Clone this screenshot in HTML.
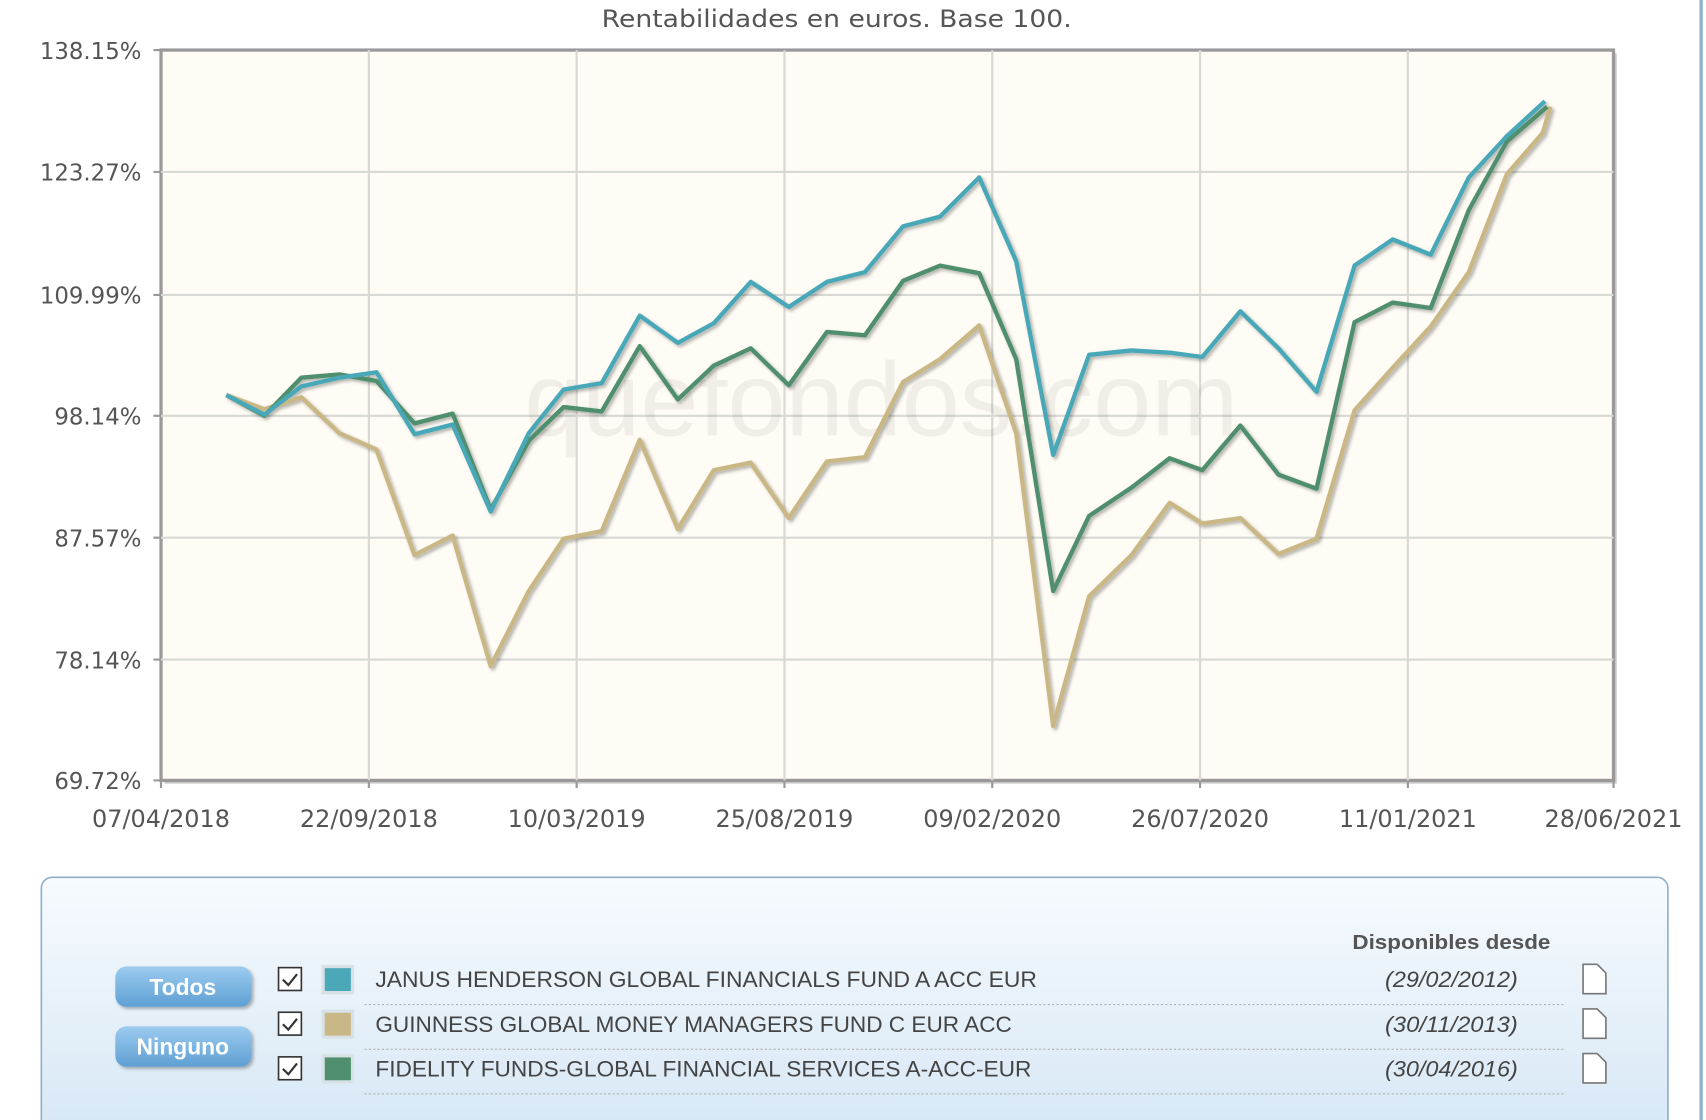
<!DOCTYPE html>
<html><head><meta charset="utf-8"><style>
html,body{margin:0;padding:0;background:#fff;}
svg{display:block;font-family:"Liberation Sans",sans-serif;}
.dv{font-family:"DejaVu Sans",sans-serif;}
</style></head><body>
<svg width="1706" height="1120" viewBox="0 0 1568 1029" preserveAspectRatio="none" xmlns="http://www.w3.org/2000/svg">
<defs>
<linearGradient id="lg" x1="0" y1="0" x2="0" y2="1"><stop offset="0" stop-color="#f7fbfe"/><stop offset="1" stop-color="#d6e7f5"/></linearGradient>
<linearGradient id="bg" x1="0" y1="0" x2="0" y2="1"><stop offset="0" stop-color="#9ccbef"/><stop offset="1" stop-color="#5e9fd3"/></linearGradient>
<filter id="sh" x="-5%" y="-5%" width="110%" height="110%"><feDropShadow dx="2" dy="2" stdDeviation="1.5" flood-color="#000" flood-opacity="0.3"/></filter>
</defs>
<rect x="1562" y="0" width="3" height="1029" fill="#8db0cc"/>
<text class="dv" x="553" y="25" font-size="22" fill="#555" textLength="432" lengthAdjust="spacingAndGlyphs">Rentabilidades en euros. Base 100.</text>
<rect x="151" y="49" width="1335" height="671" fill="#ccc"/>
<rect x="148" y="46" width="1335" height="671" fill="#fefcf4" stroke="#999" stroke-width="3"/>
<g stroke="#d8d8d4" stroke-width="2">
<line x1="148" y1="158" x2="1483" y2="158"/><line x1="148" y1="271" x2="1483" y2="271"/><line x1="148" y1="382" x2="1483" y2="382"/><line x1="148" y1="494" x2="1483" y2="494"/><line x1="148" y1="606" x2="1483" y2="606"/>
<line x1="339" y1="46" x2="339" y2="717"/><line x1="530" y1="46" x2="530" y2="717"/><line x1="721" y1="46" x2="721" y2="717"/><line x1="912" y1="46" x2="912" y2="717"/><line x1="1103" y1="46" x2="1103" y2="717"/><line x1="1294" y1="46" x2="1294" y2="717"/>
</g>
<text x="810" y="400" font-size="96" fill="#000" opacity="0.05" text-anchor="middle">quefondos.com</text>
<g stroke="#999" stroke-width="2">
<line x1="148" y1="717" x2="148" y2="724"/><line x1="339" y1="717" x2="339" y2="724"/><line x1="530" y1="717" x2="530" y2="724"/><line x1="721" y1="717" x2="721" y2="724"/><line x1="912" y1="717" x2="912" y2="724"/><line x1="1103" y1="717" x2="1103" y2="724"/><line x1="1294" y1="717" x2="1294" y2="724"/><line x1="1483" y1="717" x2="1483" y2="724"/>
<line x1="141" y1="46" x2="148" y2="46"/><line x1="141" y1="158" x2="148" y2="158"/><line x1="141" y1="271" x2="148" y2="271"/><line x1="141" y1="382" x2="148" y2="382"/><line x1="141" y1="494" x2="148" y2="494"/><line x1="141" y1="606" x2="148" y2="606"/><line x1="141" y1="717" x2="148" y2="717"/>
</g>
<g class="dv" font-size="21" fill="#555" text-anchor="end">
<text x="130" y="54">138.15%</text><text x="130" y="166">123.27%</text><text x="130" y="279">109.99%</text><text x="130" y="390">98.14%</text><text x="130" y="502">87.57%</text><text x="130" y="614">78.14%</text><text x="130" y="725">69.72%</text>
</g>
<g class="dv" font-size="22" fill="#555" text-anchor="middle">
<text x="148" y="760">07/04/2018</text><text x="339" y="760">22/09/2018</text><text x="530" y="760">10/03/2019</text><text x="721" y="760">25/08/2019</text><text x="912" y="760">09/02/2020</text><text x="1103" y="760">26/07/2020</text><text x="1294" y="760">11/01/2021</text><text x="1483" y="760">28/06/2021</text>
</g>
<g fill="none" stroke-width="4" stroke-linejoin="round" filter="url(#sh)">
<polyline stroke="#c9b785" points="208,363 243,376 277,365 312,398 346,413 381,510 416,492 451,612 486,543 518,495 553,488 588,404 623,486 656,432 690,425 725,476 760,424 795,420 830,351 864,330 900,299 934,398 968,667 1001,548 1040,510 1075,462 1105,481 1140,476 1175,509 1210,495 1245,377 1280,338 1315,300 1350,250 1385,160 1418,122 1425,98"/>
<polyline stroke="#4f8f6e" points="208,363 243,382 277,347 312,344 346,350 381,389 416,380 451,468 486,405 518,374 553,378 588,318 623,367 656,336 690,320 725,354 760,305 795,308 830,258 864,244 900,251 934,330 968,543 1001,474 1040,448 1075,421 1105,432 1140,391 1175,436 1210,449 1245,296 1280,278 1315,283 1350,193 1385,130 1422,98"/>
<polyline stroke="#4aa8b8" points="208,363 243,381 277,355 312,347 346,342 381,399 416,390 451,470 486,398 518,358 553,352 588,290 623,315 656,297 690,259 725,282 760,259 795,250 830,208 864,199 900,163 934,240 968,418 1001,326 1040,322 1075,324 1105,328 1140,286 1175,320 1210,360 1245,244 1280,220 1315,234 1350,163 1385,125 1420,93"/>
</g>
<rect x="38" y="806" width="1495" height="240" rx="10" fill="url(#lg)" stroke="#8fb0c8" stroke-width="1.5"/>
<text x="1243" y="872" font-size="19" font-weight="bold" fill="#555" textLength="182" lengthAdjust="spacingAndGlyphs">Disponibles desde</text>
<g filter="url(#sh)">
<rect x="106" y="888" width="125" height="37" rx="10" fill="url(#bg)"/>
<rect x="106" y="943" width="125" height="37" rx="10" fill="url(#bg)"/>
</g>
<text x="168" y="914" font-size="21" font-weight="bold" fill="#fff" text-anchor="middle">Todos</text>
<text x="168" y="969" font-size="21" font-weight="bold" fill="#fff" text-anchor="middle">Ninguno</text>
<g font-size="20" fill="#444">
<g transform="translate(0,900)">
<rect x="256" y="-11" width="21" height="21" fill="#fff" stroke="#333" stroke-width="1.5"/><path d="M260,0 l5,5 l8,-10" stroke="#333" stroke-width="2" fill="none"/>
<rect x="297" y="-12" width="27" height="24" fill="#4aa8b8" stroke="#d8e2e6" stroke-width="3"/>
<text x="345" y="7" textLength="608" lengthAdjust="spacingAndGlyphs">JANUS HENDERSON GLOBAL FINANCIALS FUND A ACC EUR</text>
<text x="1273" y="7" font-style="italic" textLength="122" lengthAdjust="spacingAndGlyphs">(29/02/2012)</text>
</g>
<g transform="translate(0,941)">
<rect x="256" y="-11" width="21" height="21" fill="#fff" stroke="#333" stroke-width="1.5"/><path d="M260,0 l5,5 l8,-10" stroke="#333" stroke-width="2" fill="none"/>
<rect x="297" y="-12" width="27" height="24" fill="#c9b785" stroke="#d8e2e6" stroke-width="3"/>
<text x="345" y="7" textLength="585" lengthAdjust="spacingAndGlyphs">GUINNESS GLOBAL MONEY MANAGERS FUND C EUR ACC</text>
<text x="1273" y="7" font-style="italic" textLength="122" lengthAdjust="spacingAndGlyphs">(30/11/2013)</text>
</g>
<g transform="translate(0,982)">
<rect x="256" y="-11" width="21" height="21" fill="#fff" stroke="#333" stroke-width="1.5"/><path d="M260,0 l5,5 l8,-10" stroke="#333" stroke-width="2" fill="none"/>
<rect x="297" y="-12" width="27" height="24" fill="#4f8f6e" stroke="#d8e2e6" stroke-width="3"/>
<text x="345" y="7" textLength="603" lengthAdjust="spacingAndGlyphs">FIDELITY FUNDS-GLOBAL FINANCIAL SERVICES A-ACC-EUR</text>
<text x="1273" y="7" font-style="italic" textLength="122" lengthAdjust="spacingAndGlyphs">(30/04/2016)</text>
</g>
</g>
<g stroke="#aaa" stroke-width="1" stroke-dasharray="2,2">
<line x1="335" y1="923" x2="1438" y2="923"/><line x1="335" y1="964" x2="1438" y2="964"/><line x1="335" y1="1005" x2="1438" y2="1005"/>
</g>
<g fill="#fff" stroke="#777" stroke-width="1.5">
<path d="M1455,886 h13 l8,8 v19 h-21 z"/><path d="M1455,927 h13 l8,8 v19 h-21 z"/><path d="M1455,968 h13 l8,8 v19 h-21 z"/>
</g>
</svg>
</body></html>
